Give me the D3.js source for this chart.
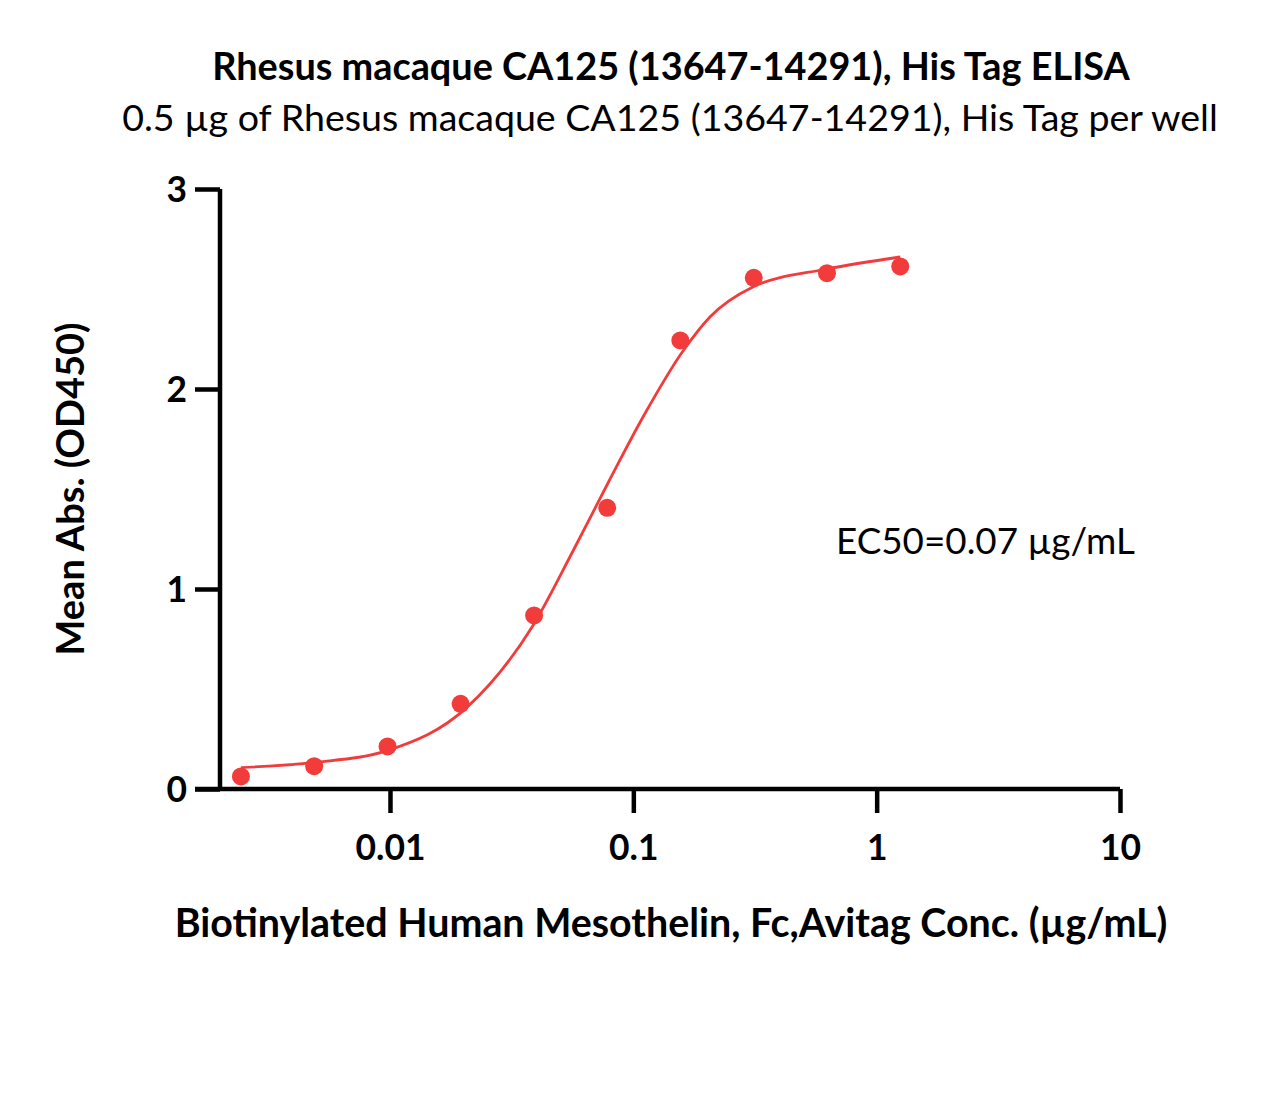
<!DOCTYPE html>
<html><head><meta charset="utf-8">
<script src="https://cdn.jsdelivr.net/npm/d3@7"></script>
<style>body{margin:0;background:#fff}</style>
</head><body>
<svg id="c" width="1262" height="1095"></svg>
<script>
// Data
const concentrations = [0.00244, 0.00488, 0.00977, 0.0195, 0.0391, 0.0781, 0.156, 0.3125, 0.625, 1.25];
const meanAbs = [0.063, 0.114, 0.213, 0.426, 0.868, 1.406, 2.243, 2.556, 2.579, 2.613];
const fitX = [0.00244, 0.00492, 0.00981, 0.0207, 0.0387, 0.0565, 0.0787, 0.1096, 0.160, 0.2065, 0.310, 0.625, 1.25];
const fitY = [0.107, 0.133, 0.193, 0.408, 0.818, 1.19, 1.53, 1.86, 2.19, 2.36, 2.51, 2.60, 2.66];
const xTicks = [0.01, 0.1, 1, 10];
const xTickLabels = ["0.01", "0.1", "1", "10"];
const yTicks = [0, 1, 2, 3];

const title = "Rhesus macaque CA125 (13647-14291), His Tag ELISA";
const subtitle = "0.5 \u00b5g of Rhesus macaque CA125 (13647-14291), His Tag per well";
const xTitle = "Biotinylated Human Mesothelin, Fc,Avitag Conc. (\u00b5g/mL)";
const yTitle = "Mean Abs. (OD450)";
const ec50Label = "EC50=0.07 \u00b5g/mL";

const FONT = "Lato, 'Open Sans', sans-serif";
const RED = "#f23c3c";
const svg = d3.select("#c");

const x = d3.scaleLog().domain([0.00158, 10]).range([195, 1120]);
const y = d3.scaleLinear().domain([0, 3]).range([789, 189]);

function fitText(sel, target) {
  const n = sel.node();
  const fs = parseFloat(sel.attr("font-size"));
  const w = n.getComputedTextLength();
  sel.attr("font-size", (fs * target / w).toFixed(2));
}

// Titles
fitText(svg.append("text").attr("x", 671).attr("y", 80).attr("text-anchor", "middle")
  .attr("font-family", FONT).attr("font-weight", "bold").attr("font-size", 32).text(title), 918);
fitText(svg.append("text").attr("x", 670).attr("y", 131).attr("text-anchor", "middle")
  .attr("font-family", FONT).attr("font-size", 32).text(subtitle), 1096);

// measure tick font size so that "0.01" is ~70px wide
const probe = svg.append("text").attr("font-family", FONT).attr("font-weight", "bold")
  .attr("font-size", 30).text(xTickLabels[0]);
const tickFS = 30 * 70 / probe.node().getComputedTextLength();
probe.remove();

// Axes
const gx = svg.append("g").attr("transform", "translate(0,789)")
  .call(d3.axisBottom(x).tickValues(xTicks).tickFormat((d, i) => xTickLabels[i]).tickSize(24).tickPadding(22));
const gy = svg.append("g").attr("transform", "translate(220,0)")
  .call(d3.axisLeft(y).tickValues(yTicks).tickFormat(d3.format("d")).tickSize(25).tickPadding(8));
[gx, gy].forEach(g => {
  g.select(".domain").attr("stroke", "#000").attr("stroke-width", 4.5);
  g.selectAll(".tick line").attr("stroke", "#000").attr("stroke-width", 4.5);
  g.selectAll(".tick text").attr("font-family", FONT).attr("font-weight", "bold")
    .attr("font-size", tickFS.toFixed(2)).attr("fill", "#000");
});
// domain paths without outer ticks
gx.select(".domain").attr("d", `M195,0H1120`);
gy.select(".domain").attr("d", `M0,${y(3)}V789`);
gy.selectAll(".tick text").attr("dy", "0.36em");

// Axis titles
fitText(svg.append("text").attr("x", 671).attr("y", 937).attr("text-anchor", "middle")
  .attr("font-family", FONT).attr("font-weight", "bold").attr("font-size", 32).text(xTitle), 993);
fitText(svg.append("text").attr("transform", "translate(84,489) rotate(-90)").attr("text-anchor", "middle")
  .attr("font-family", FONT).attr("font-weight", "bold").attr("font-size", 32).text(yTitle), 333);

// Fit curve
const fit = fitX.map((d, i) => [d, fitY[i]]);
svg.append("path").datum(fit)
  .attr("d", d3.line().x(d => x(d[0])).y(d => y(d[1])).curve(d3.curveMonotoneX))
  .attr("fill", "none").attr("stroke", RED).attr("stroke-width", 2.8);

// Points
svg.append("g").selectAll("circle").data(concentrations).join("circle")
  .attr("cx", d => x(d)).attr("cy", (d, i) => y(meanAbs[i])).attr("r", 9).attr("fill", RED);

// EC50 label
fitText(svg.append("text").attr("x", 836).attr("y", 554)
  .attr("font-family", FONT).attr("font-size", 30).text(ec50Label), 299);
</script>
</body></html>
